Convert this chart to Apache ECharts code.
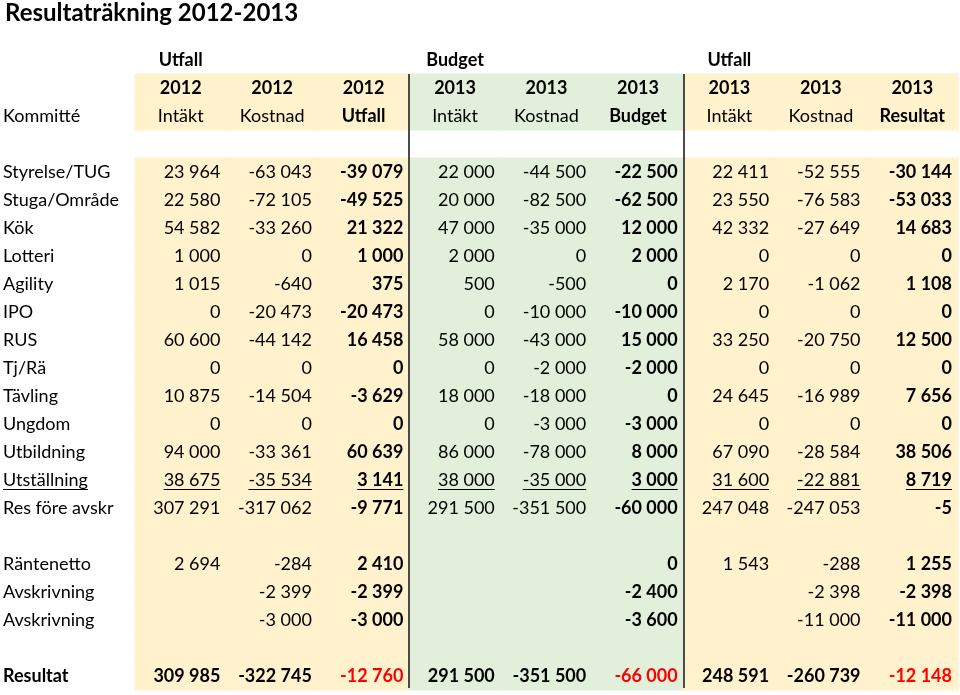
<!DOCTYPE html>
<html>
<head>
<meta charset="utf-8">
<script src="https://cdn.jsdelivr.net/npm/echarts@6/dist/echarts.min.js"></script>
<style>html,body{margin:0;padding:0;background:#fff}#c{width:960px;height:695px}</style>
</head>
<body>
<div id="c"></div>
<script>
// ---------- DATA ----------
const titleText = 'Resultaträkning 2012-2013';
const firstHeader = 'Kommitté';
const groupHeaders = ['Utfall', '', '', 'Budget', '', '', 'Utfall', '', ''];
const yearHeaders = ['2012', '2012', '2012', '2013', '2013', '2013', '2013', '2013', '2013'];
const typeHeaders = ['Intäkt', 'Kostnad', 'Utfall', 'Intäkt', 'Kostnad', 'Budget', 'Intäkt', 'Kostnad', 'Resultat'];
const rowLabels = ['Styrelse/TUG', 'Stuga/Område', 'Kök', 'Lotteri', 'Agility', 'IPO', 'RUS', 'Tj/Rä', 'Tävling', 'Ungdom', 'Utbildning', 'Utställning', 'Res före avskr', '', 'Räntenetto', 'Avskrivning', 'Avskrivning', '', 'Resultat'];
const utfall2012Intakt   = [23964, 22580, 54582, 1000, 1015, 0, 60600, 0, 10875, 0, 94000, 38675, 307291, null, 2694, null, null, null, 309985];
const utfall2012Kostnad  = [-63043, -72105, -33260, 0, -640, -20473, -44142, 0, -14504, 0, -33361, -35534, -317062, null, -284, -2399, -3000, null, -322745];
const utfall2012Utfall   = [-39079, -49525, 21322, 1000, 375, -20473, 16458, 0, -3629, 0, 60639, 3141, -9771, null, 2410, -2399, -3000, null, -12760];
const budget2013Intakt   = [22000, 20000, 47000, 2000, 500, 0, 58000, 0, 18000, 0, 86000, 38000, 291500, null, null, null, null, null, 291500];
const budget2013Kostnad  = [-44500, -82500, -35000, 0, -500, -10000, -43000, -2000, -18000, -3000, -78000, -35000, -351500, null, null, null, null, null, -351500];
const budget2013Budget   = [-22500, -62500, 12000, 2000, 0, -10000, 15000, -2000, 0, -3000, 8000, 3000, -60000, null, 0, -2400, -3600, null, -66000];
const utfall2013Intakt   = [22411, 23550, 42332, 0, 2170, 0, 33250, 0, 24645, 0, 67090, 31600, 247048, null, 1543, null, null, null, 248591];
const utfall2013Kostnad  = [-52555, -76583, -27649, 0, -1062, 0, -20750, 0, -16989, 0, -28584, -22881, -247053, null, -288, -2398, -11000, null, -260739];
const utfall2013Resultat = [-30144, -53033, 14683, 0, 1108, 0, 12500, 0, 7656, 0, 38506, 8719, -5, null, 1255, -2398, -11000, null, -12148];

// ---------- STYLE / LAYOUT ----------
const columns = [utfall2012Intakt, utfall2012Kostnad, utfall2012Utfall, budget2013Intakt, budget2013Kostnad, budget2013Budget, utfall2013Intakt, utfall2013Kostnad, utfall2013Resultat];
const FONT = 'Lato';
const FS = 18;
const YELLOW = '#FFF2CC';
const GREEN = '#E2EFDA';
const boldCols = [2, 5, 8];
const greenCols = [3, 4, 5];
const HEADER_ROWS = 4;          // group, year, type, gap
const underlineRow = 11;        // Utställning
const totalRow = 18;            // Resultat
const nRows = HEADER_ROWS + rowLabels.length;
const rowIds = Array.from({length: nRows}, (_, i) => 'r' + i);
const colIds = typeHeaders.map((t, i) => 'c' + i);
const PAD = 6;

function fmt(v) {
  const s = Math.abs(v).toString().replace(/\B(?=(\d{3})+(?!\d))/g, '\u00a0');
  return (v < 0 ? '-' : '') + s;
}
const mctx = document.createElement('canvas').getContext('2d');
function textWidth(t, font) { mctx.font = font; return mctx.measureText(t).width; }

// build cell descriptors
const cells = [];
for (let c = 0; c < 9; c++) {
  if (groupHeaders[c]) cells.push({c, r: 0, text: groupHeaders[c], bold: true, align: 'center'});
  cells.push({c, r: 1, text: yearHeaders[c], bold: true, align: 'center'});
  cells.push({c, r: 2, text: typeHeaders[c], bold: boldCols.includes(c), align: 'center'});
  columns[c].forEach((v, i) => {
    if (v === null || v === undefined) return;
    const isTotal = i === totalRow;
    cells.push({
      c, r: HEADER_ROWS + i, text: fmt(v),
      bold: boldCols.includes(c) || isTotal,
      color: (isTotal && boldCols.includes(c)) ? '#FF0000' : '#000',
      align: 'right',
      underline: i === underlineRow
    });
  });
}
const labelCells = [{r: 2, text: firstHeader, bold: false}];
rowLabels.forEach((t, i) => { if (t) labelCells.push({r: HEADER_ROWS + i, text: t, bold: i === totalRow, underline: i === underlineRow}); });

const bgCells = [];
for (let c = 0; c < 9; c++) {
  for (let r = 1; r < nRows; r++) {
    if (r === 3) continue;
    bgCells.push([c, r, greenCols.includes(c) ? 1 : 0]);
  }
}

function drawText(x, y, cell, align) {
  const font = (cell.bold ? 'bold ' : 'normal ') + FS + 'px ' + FONT;
  const children = [{
    type: 'text',
    style: {x, y, text: cell.text, align, verticalAlign: 'middle', font, fill: cell.color || '#000'}
  }];
  if (cell.underline) {
    const w = textWidth(cell.text, font);
    const x0 = align === 'right' ? x - w : x;
    children.push({type: 'line', shape: {x1: x0, y1: y + 9.5, x2: x0 + w, y2: y + 9.5}, style: {stroke: '#000', lineWidth: 1}});
  }
  return children;
}

const TOP = 46, ROWH = 28;
const option = {
  animation: false,
  title: {
    text: titleText, left: 3, top: 0, padding: [1, 2],
    textStyle: {fontFamily: FONT, fontWeight: 'bold', fontSize: 24, color: '#000'}
  },
  grid: [
    {left: 0, width: 135, top: TOP, height: ROWH * nRows},
    {left: 135, width: 823, top: TOP, height: ROWH * nRows}
  ],
  xAxis: [
    {type: 'category', gridIndex: 0, data: ['label'], show: false},
    {type: 'category', gridIndex: 1, data: colIds, show: false}
  ],
  yAxis: [
    {type: 'category', gridIndex: 0, data: rowIds, inverse: true, show: false},
    {type: 'category', gridIndex: 1, data: rowIds, inverse: true, show: false}
  ],
  series: [
    {
      type: 'custom', xAxisIndex: 1, yAxisIndex: 1, silent: true, z: 1,
      data: bgCells,
      renderItem(params, api) {
        const p = api.coord([api.value(0), api.value(1)]);
        const s = api.size([1, 1]);
        return {type: 'rect', shape: {x: p[0] - s[0] / 2 - 0.5, y: p[1] - s[1] / 2 - 0.5, width: s[0] + 1, height: s[1] + 1},
          style: {fill: api.value(2) ? GREEN : YELLOW}};
      }
    },
    {
      type: 'custom', xAxisIndex: 1, yAxisIndex: 1, silent: true, z: 2,
      data: [[3], [6]],
      renderItem(params, api) {
        const c = api.value(0);
        const a = api.coord([c, 1]);
        const b = api.coord([c, nRows - 1]);
        const s = api.size([1, 1]);
        const x = Math.round(a[0] - s[0] / 2);
        return {type: 'line', shape: {x1: x, y1: a[1] - s[1] / 2, x2: x, y2: b[1] + s[1] / 2 - 2},
          style: {stroke: '#4a4a4a', lineWidth: 2}};
      }
    },
    {
      type: 'custom', xAxisIndex: 1, yAxisIndex: 1, silent: true, z: 3,
      data: cells.map(d => [d.c, d.r]),
      renderItem(params, api) {
        const cell = cells[params.dataIndex];
        const p = api.coord([api.value(0), api.value(1)]);
        const s = api.size([1, 1]);
        const x = cell.align === 'center' ? p[0] : p[0] + s[0] / 2 - PAD;
        return {type: 'group', children: drawText(x, p[1], cell, cell.align)};
      }
    },
    {
      type: 'custom', xAxisIndex: 0, yAxisIndex: 0, silent: true, z: 3,
      data: labelCells.map(d => [0, d.r]),
      renderItem(params, api) {
        const cell = labelCells[params.dataIndex];
        const p = api.coord([api.value(0), api.value(1)]);
        const s = api.size([1, 1]);
        return {type: 'group', children: drawText(p[0] - s[0] / 2 + 3, p[1], cell, 'left')};
      }
    }
  ]
};
const chart = echarts.init(document.getElementById('c'), null, {renderer: 'canvas'});
chart.setOption(option);
</script>
</body>
</html>
